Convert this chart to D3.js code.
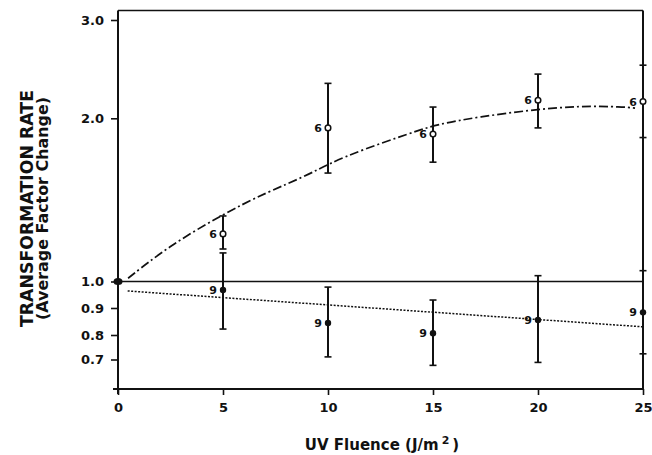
<!DOCTYPE html>
<html>
<head>
<meta charset="utf-8">
<script src="https://cdn.jsdelivr.net/npm/d3@7"></script>
<style>
  html, body { margin: 0; padding: 0; background: #fff; }
  svg { display: block; }
  text { font-family: "DejaVu Sans", "Liberation Sans", sans-serif; font-weight: bold; fill: #111; }
</style>
</head>
<body>
<svg id="chart" width="652" height="455"></svg>
<script>
// ---- data ----
const fluence = [5, 10, 15, 20, 25];
// open circles (n = 6)
const openMean  = [1.224, 1.92, 1.87, 2.155, 2.143];
const openLow   = [1.148, 1.585, 1.66, 1.92, 1.843];
const openHigh  = [1.321, 2.31, 2.095, 2.40, 2.49];
const openN     = ["6", "6", "6", "6", "6"];
// filled circles (n = 9)
const filledMean = [0.967, 0.843, 0.806, 0.854, 0.883];
const filledLow  = [0.821, 0.710, 0.678, 0.689, 0.722];
const filledHigh = [1.129, 0.978, 0.929, 1.025, 1.047];
const filledN    = ["9", "9", "9", "9", "9"];
// origin point
const originX = [0];
const originY = [1.0];
// fitted dash-dot curve
const fitOpenX = [0.48, 2.38, 5, 7.14, 8.89, 10, 11.68, 13.9, 15.18, 17.24, 19.62, 22, 24.05, 24.62];
const fitOpenY = [1.014, 1.159, 1.332, 1.464, 1.561, 1.647, 1.753, 1.876, 1.95, 2.013, 2.069, 2.106, 2.097, 2.086];
// fitted dotted line
const fitFilledX = [0.46, 25];
const fitFilledY = [0.963, 0.829];
// reference line at 1.0
const refX = [0, 25];
const refY = [1.0, 1.0];
// tick labels
const xTicks = [0, 5, 10, 15, 20, 25];
const yTicks = [0.7, 0.8, 0.9, 1.0, 2.0, 3.0];

(function () {
// ---- layout ----
const svg = d3.select("#chart");
const mLeft = 118, mRight = 643, mTop = 10.5, mBottom = 389;

const x = d3.scaleLinear().domain([0, 25]).range([mLeft, mRight]);
// log-type axis as drawn (piecewise to follow the hand-set tick positions)
const y = d3.scaleLog()
  .domain([0.7, 0.8, 0.9, 1.0, 2.0, 3.0])
  .range([359.5, 335, 308, 281.5, 118.3, 20]);

const ink = "#111";

// frame: top and right borders
svg.append("line").attr("x1", mLeft).attr("x2", mRight).attr("y1", mTop).attr("y2", mTop)
  .attr("stroke", ink).attr("stroke-width", 1.5);
svg.append("line").attr("x1", mRight).attr("x2", mRight).attr("y1", mTop).attr("y2", mBottom)
  .attr("stroke", ink).attr("stroke-width", 2);

// axes
const xAxis = d3.axisBottom(x).tickValues(xTicks).tickSize(6).tickSizeOuter(0).tickPadding(8)
  .tickFormat(d3.format("d"));
const gx = svg.append("g").attr("transform", `translate(0,${mBottom})`).call(xAxis);
gx.select(".domain").attr("stroke", ink).attr("stroke-width", 2).attr("d", `M${mLeft - 5},0H${mRight}`);
gx.selectAll(".tick line").attr("stroke", ink).attr("stroke-width", 1.6);
gx.selectAll(".tick text").attr("font-size", 13).attr("font-family", "DejaVu Sans").attr("font-weight", "bold").attr("fill", ink);

const yAxis = d3.axisLeft(y).tickValues(yTicks).tickSize(7).tickSizeOuter(0).tickPadding(7)
  .tickFormat(d3.format(".1f"));
const gy = svg.append("g").attr("transform", `translate(${mLeft},0)`).call(yAxis);
gy.select(".domain").attr("stroke", ink).attr("stroke-width", 2).attr("d", `M0,${mTop}V${mBottom + 5}`);
gy.selectAll(".tick line").attr("stroke", ink).attr("stroke-width", 1.6);
gy.selectAll(".tick text").attr("font-size", 13).attr("font-family", "DejaVu Sans").attr("font-weight", "bold").attr("fill", ink);

// reference line at 1.0
svg.append("path")
  .attr("d", d3.line().x((d, i) => x(refX[i])).y((d, i) => y(refY[i]))(refX))
  .attr("fill", "none").attr("stroke", ink).attr("stroke-width", 1.6);

// fitted curves
svg.append("path")
  .attr("d", d3.line().curve(d3.curveBasis).x((d, i) => x(fitOpenX[i])).y((d, i) => y(fitOpenY[i]))(fitOpenX))
  .attr("fill", "none").attr("stroke", ink).attr("stroke-width", 1.7)
  .attr("stroke-dasharray", "9,3,2,3");
svg.append("path")
  .attr("d", d3.line().x((d, i) => x(fitFilledX[i])).y((d, i) => y(fitFilledY[i]))(fitFilledX))
  .attr("fill", "none").attr("stroke", ink).attr("stroke-width", 1.5)
  .attr("stroke-dasharray", "2,1.5");

// error bars
function errorBars(low, high) {
  const g = svg.append("g").attr("stroke", ink);
  fluence.forEach((f, i) => {
    const cx = x(f);
    g.append("line").attr("x1", cx).attr("x2", cx).attr("y1", y(low[i])).attr("y2", y(high[i]))
      .attr("stroke-width", 2);
    [low[i], high[i]].forEach(v => {
      g.append("line").attr("x1", cx - 3.5).attr("x2", cx + 3.5).attr("y1", y(v)).attr("y2", y(v))
        .attr("stroke-width", 1.6);
    });
  });
}
errorBars(openLow, openHigh);
errorBars(filledLow, filledHigh);

// points
svg.append("g").selectAll("circle").data(fluence).join("circle")
  .attr("cx", d => x(d)).attr("cy", (d, i) => y(openMean[i])).attr("r", 2.8)
  .attr("fill", "#fff").attr("stroke", ink).attr("stroke-width", 1.5);
svg.append("g").selectAll("circle").data(fluence).join("circle")
  .attr("cx", d => x(d)).attr("cy", (d, i) => y(filledMean[i])).attr("r", 3.2)
  .attr("fill", ink);
svg.append("g").selectAll("ellipse").data(originX).join("ellipse")
  .attr("cx", d => x(d)).attr("cy", (d, i) => y(originY[i])).attr("rx", 4.5).attr("ry", 3.5)
  .attr("fill", ink);

// n labels
svg.append("g").selectAll("text").data(fluence).join("text")
  .attr("x", d => x(d) - 6).attr("y", (d, i) => y(openMean[i]) + 4)
  .attr("text-anchor", "end").attr("font-size", 11).text((d, i) => openN[i]);
svg.append("g").selectAll("text").data(fluence).join("text")
  .attr("x", d => x(d) - 6).attr("y", (d, i) => y(filledMean[i]) + 4)
  .attr("text-anchor", "end").attr("font-size", 11).text((d, i) => filledN[i]);

// axis titles
const xt = svg.append("text").attr("x", 382).attr("y", 450).attr("text-anchor", "middle")
  .attr("font-size", 15);
xt.append("tspan").text("UV Fluence (J/m");
xt.append("tspan").attr("font-size", 11).attr("dy", -6).attr("dx", 3).text("2");
xt.append("tspan").attr("dy", 6).attr("dx", 3).text(")");

svg.append("text").attr("transform", "translate(33,208.5) rotate(-90)")
  .attr("text-anchor", "middle").attr("font-size", 17)
  .attr("textLength", 237).attr("lengthAdjust", "spacingAndGlyphs")
  .text("TRANSFORMATION RATE");
svg.append("text").attr("transform", "translate(48,208.5) rotate(-90)")
  .attr("text-anchor", "middle").attr("font-size", 16)
  .attr("textLength", 223).attr("lengthAdjust", "spacingAndGlyphs")
  .text("(Average Factor Change)");
})();
</script>
</body>
</html>
